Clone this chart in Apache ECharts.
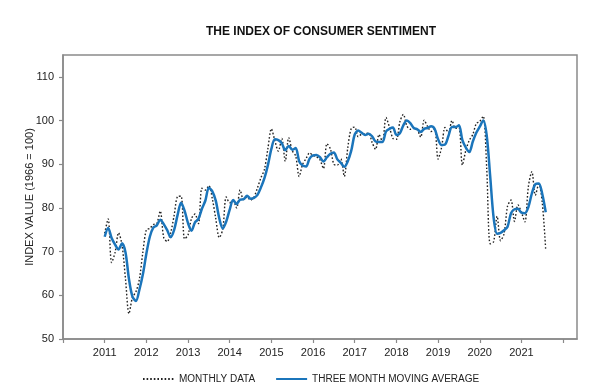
<!DOCTYPE html>
<html>
<head>
<meta charset="utf-8">
<script src="https://cdn.jsdelivr.net/npm/echarts@6/dist/echarts.min.js"></script>
<style>
html,body{margin:0;padding:0;background:#fff;}
#chart{width:600px;height:391px;}
</style>
</head>
<body>
<div id="chart"></div>
<script>
// Monthly data, Jan 2011 .. Aug 2021
const monthlyData = [
  74.2, 77.5, 67.5, 69.8, 74.3, 71.5, 63.7, 55.8, 59.5, 60.8, 63.7, 69.9,
  75.0, 75.3, 76.2, 76.4, 79.3, 73.2, 72.3, 74.3, 78.3, 82.6, 82.7, 72.9,
  73.8, 77.6, 78.6, 76.4, 84.5, 84.1, 85.1, 82.1, 77.5, 73.2, 75.1, 82.5,
  81.2, 81.6, 80.0, 84.1, 81.9, 82.5, 81.8, 82.5, 84.6, 86.9, 88.8, 93.6,
  98.1, 95.4, 93.0, 95.9, 90.7, 96.1, 93.1, 91.9, 87.2, 90.0, 91.3, 92.6,
  92.0, 91.7, 91.0, 89.0, 94.7, 93.5, 90.0, 89.8, 91.2, 87.2, 93.8, 98.2,
  98.5, 96.3, 96.9, 97.0, 97.1, 95.0, 93.4, 96.8, 95.1, 100.7, 98.5, 95.9,
  95.7, 99.7, 101.4, 98.8, 98.0, 98.2, 97.9, 96.2, 100.1, 98.6, 97.5, 98.3,
  91.2, 93.8, 98.4, 97.2, 100.0, 98.2, 98.4, 89.8, 93.2, 95.5, 96.8, 99.3,
  99.8, 101.0, 89.1, 71.8, 72.3, 78.1, 72.5, 74.1, 80.4, 81.8, 76.9, 80.7,
  79.0, 76.8, 84.9, 88.3, 82.9, 85.5, 81.2, 70.3
];
// Three month moving average, Jan 2011 .. Aug 2021
const movingAverage = [
  73.4, 75.4, 73.1, 71.6, 70.5, 71.9, 69.8, 63.7, 59.7, 58.7, 61.3, 64.8,
  69.5, 73.4, 75.5, 76.0, 77.3, 76.3, 74.9, 73.3, 75.0, 78.4, 81.2, 79.4,
  76.5, 74.8, 76.7, 77.5, 79.8, 81.7, 84.6, 83.8, 81.6, 77.6, 75.3, 76.9,
  79.6, 81.8, 80.9, 81.9, 82.0, 82.8, 82.1, 82.3, 83.0, 84.7, 86.8, 89.8,
  93.5, 95.7, 95.5, 94.8, 93.2, 94.2, 93.3, 93.7, 90.7, 89.7, 89.5, 91.3,
  92.0, 92.1, 91.6, 90.6, 91.6, 92.4, 92.7, 91.1, 90.3, 89.4, 90.7, 93.1,
  96.8, 97.7, 97.2, 96.7, 97.0, 96.4, 95.2, 95.1, 95.1, 97.5, 98.1, 98.4,
  96.7, 97.1, 98.9, 100.0, 99.4, 98.3, 98.0, 97.4, 98.1, 98.3, 98.7, 98.1,
  95.7, 94.4, 94.5, 96.5, 98.5, 98.5, 98.9, 95.5, 93.8, 92.8, 95.2, 97.2,
  98.6, 100.0, 96.6, 87.3, 77.7, 74.1, 74.3, 74.9, 75.7, 78.8, 79.7, 79.8,
  78.9, 78.8, 80.2, 83.3, 85.4, 85.6, 83.2, 79.0
];
const firstYear = 2011;        // first data month: January of this year
const axisStartYear = 2010;    // x axis starts January of this year
const yearLabels = [2011, 2012, 2013, 2014, 2015, 2016, 2017, 2018, 2019, 2020, 2021];
const yearTickYears = [2010, 2011, 2012, 2013, 2014, 2015, 2016, 2017, 2018, 2019, 2020, 2021, 2022];
const yTickValues = [50, 60, 70, 80, 90, 100, 110];

const offset = (firstYear - axisStartYear) * 12;
const toPairs = arr => arr.map((v, i) => [offset + i, v]);
const toPos = y => (y - axisStartYear) * 12;

const FONT = '"Liberation Sans", Arial, sans-serif';
const AXIS = '#8a8a8a';

const chart = echarts.init(document.getElementById('chart'), null, {renderer: 'canvas'});
chart.setOption({
  animation: false,
  backgroundColor: '#fff',
  title: {
    text: 'THE INDEX OF CONSUMER SENTIMENT',
    left: 316, top: 21, textAlign: 'center',
    textStyle: {fontFamily: FONT, fontSize: 12, fontWeight: 'bold', color: '#111'}
  },
  grid: {
    left: 63, right: 23, top: 55, bottom: 52,
    show: true, borderColor: AXIS, borderWidth: 1.5, backgroundColor: 'transparent'
  },
  legend: {
    bottom: 2, left: 137,
    itemWidth: 31, itemHeight: 12, itemGap: 20,
    itemStyle: {opacity: 0},
    textStyle: {fontFamily: FONT, fontSize: 10, color: '#222'},
    data: ['MONTHLY DATA', 'THREE MONTH MOVING AVERAGE']
  },
  xAxis: {
    type: 'value',
    min: 0, max: 148, interval: 12,
    axisLine: {show: true, lineStyle: {color: AXIS, width: 1.5}},
    axisTick: {show: true, length: 4, lineStyle: {color: AXIS, width: 1.2},
      customValues: yearTickYears.map(toPos)},
    axisLabel: {
      margin: 8, fontFamily: FONT, fontSize: 11, color: '#222',
      customValues: yearLabels.map(toPos),
      formatter: v => String(axisStartYear + Math.round(v / 12))
    },
    splitLine: {show: false}
  },
  yAxis: {
    type: 'value',
    min: 50, max: 115, interval: 10,
    name: 'INDEX VALUE (1966 = 100)',
    nameLocation: 'middle', nameGap: 28, nameRotate: 90,
    nameMoveOverlap: false,
    nameTextStyle: {fontFamily: FONT, fontSize: 11, color: '#222'},
    axisLine: {show: true, lineStyle: {color: AXIS, width: 1.5}},
    axisTick: {show: true, length: 4, lineStyle: {color: AXIS, width: 1.2},
      customValues: yTickValues},
    axisLabel: {margin: 9, fontFamily: FONT, fontSize: 11, color: '#222',
      customValues: yTickValues},
    splitLine: {show: false}
  },
  series: [
    {
      name: 'MONTHLY DATA',
      type: 'line',
      data: toPairs(monthlyData),
      showSymbol: false, symbol: 'none',
      smooth: 0.3,
      lineStyle: {color: '#222', width: 1.4, type: [1.6, 2]},
      itemStyle: {color: '#222'},
      z: 2
    },
    {
      name: 'THREE MONTH MOVING AVERAGE',
      type: 'line',
      data: toPairs(movingAverage),
      showSymbol: false, symbol: 'none',
      smooth: 0.3,
      lineStyle: {color: '#1b75bb', width: 2.5},
      itemStyle: {color: '#1b75bb'},
      z: 3
    }
  ]
});
</script>
</body>
</html>
